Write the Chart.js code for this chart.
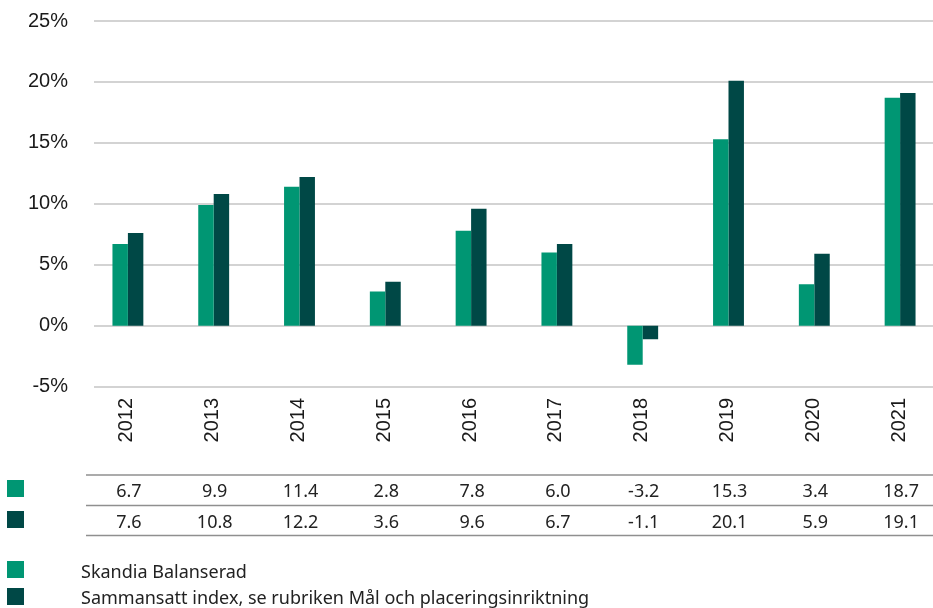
<!DOCTYPE html>
<html>
<head>
<meta charset="utf-8">
<script src="https://cdn.jsdelivr.net/npm/chart.js@4.4.0/dist/chart.umd.min.js"></script>
<style>
html,body{margin:0;padding:0;background:#fff;overflow:hidden;}
#wrap{width:943px;height:616px;position:relative;margin-top:-8px;}
</style>
</head>
<body>
<div id="wrap"><canvas id="c"></canvas></div>
<script>
const categories = ['2012','2013','2014','2015','2016','2017','2018','2019','2020','2021'];
const fundValues = [6.7, 9.9, 11.4, 2.8, 7.8, 6.0, -3.2, 15.3, 3.4, 18.7];
const indexValues = [7.6, 10.8, 12.2, 3.6, 9.6, 6.7, -1.1, 20.1, 5.9, 19.1];
const seriesLabels = ['Skandia Balanserad', 'Sammansatt index, se rubriken Mål och placeringsinriktning'];
const yTicks = [-5, 0, 5, 10, 15, 20, 25];

const GREEN = '#009673';
const DARK = '#004846';
const FONT = '"Liberation Sans", Arial, sans-serif';
const TFONT = '"Noto Sans", "Liberation Sans", sans-serif';
const OFF = 8;

const customDraw = {
  id: 'customDraw',
  beforeDatasetsDraw(chart) {
    const ctx = chart.ctx, y = chart.scales.y, area = chart.chartArea;
    ctx.save();
    ctx.strokeStyle = '#d3d3d3';
    ctx.lineWidth = 2;
    yTicks.forEach(v => {
      const py = Math.round(y.getPixelForValue(v));
      ctx.beginPath();
      ctx.moveTo(94, py);
      ctx.lineTo(area.right, py);
      ctx.stroke();
    });
    ctx.restore();
  },
  afterDraw(chart) {
    const ctx = chart.ctx, x = chart.scales.x, area = chart.chartArea;
    ctx.save();
    ctx.fillStyle = '#1a1a1a';
    ctx.font = '20px ' + FONT;
    ctx.textAlign = 'right';
    ctx.textBaseline = 'middle';
    categories.forEach((c, i) => {
      const px = x.getPixelForValue(i);
      ctx.save();
      ctx.translate(px - 1, 398 + OFF);
      ctx.rotate(-Math.PI / 2);
      ctx.fillText(c, 0, 0);
      ctx.restore();
    });
    ctx.strokeStyle = '#8f8f8f';
    ctx.lineWidth = 1.5;
    [475, 505.5, 535.5].forEach(ly => {
      ctx.beginPath();
      ctx.moveTo(86, ly + OFF);
      ctx.lineTo(area.right, ly + OFF);
      ctx.stroke();
    });
    ctx.font = '18px ' + TFONT;
    ctx.textAlign = 'center';
    ctx.textBaseline = 'alphabetic';
    const rows = [fundValues, indexValues];
    const baselines = [497, 528];
    const markTops = [480, 511];
    const colors = [GREEN, DARK];
    rows.forEach((vals, r) => {
      ctx.fillStyle = colors[r];
      ctx.fillRect(7, markTops[r] + OFF, 17, 17);
      ctx.fillStyle = '#222';
      vals.forEach((v, i) => {
        ctx.fillText(v.toFixed(1), x.getPixelForValue(i) + 1, baselines[r] + OFF);
      });
    });
    const legTops = [561, 588];
    const legBase = [578, 604];
    ctx.textAlign = 'left';
    seriesLabels.forEach((l, r) => {
      ctx.fillStyle = colors[r];
      ctx.fillRect(7, legTops[r] + OFF, 17, 17);
      ctx.fillStyle = '#222';
      ctx.fillText(l, 81, legBase[r] + OFF);
    });
    ctx.restore();
  }
};

new Chart(document.getElementById('c'), {
  type: 'bar',
  data: {
    labels: categories,
    datasets: [
      { label: seriesLabels[0], data: fundValues, backgroundColor: GREEN, categoryPercentage: 0.36, barPercentage: 1.0 },
      { label: seriesLabels[1], data: indexValues, backgroundColor: DARK, categoryPercentage: 0.36, barPercentage: 1.0 }
    ]
  },
  options: {
    responsive: true,
    maintainAspectRatio: false,
    animation: false,
    devicePixelRatio: 1,
    layout: { padding: { top: 13, left: 0, right: 0, bottom: 0 } },
    plugins: { legend: { display: false }, tooltip: { enabled: false } },
    scales: {
      x: {
        grid: { display: false },
        border: { display: false },
        ticks: { display: false },
        afterFit(s) { s.height = 616 - (386.7 + OFF); }
      },
      y: {
        min: -5, max: 25,
        grid: { display: false, drawTicks: false },
        border: { display: false },
        afterBuildTicks(s) { s.ticks = yTicks.map(v => ({ value: v })); },
        ticks: {
          padding: 17,
          color: '#1a1a1a',
          font: { family: FONT, size: 20 },
          callback: v => v + '%'
        },
        afterFit(s) { s.width = 85; }
      }
    }
  },
  plugins: [customDraw]
});
</script>
</body>
</html>
